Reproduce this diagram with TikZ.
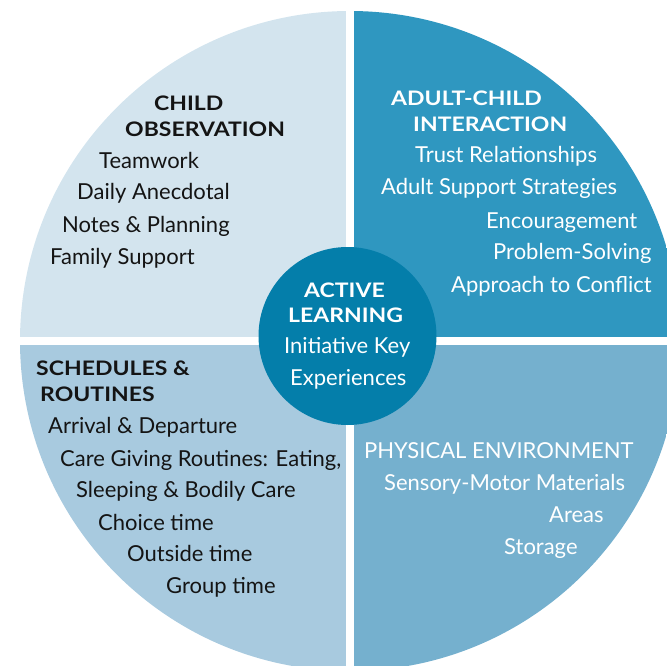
\documentclass[tikz,border=0pt]{standalone}
\usepackage{fontspec}
\setmainfont{Lato}
\newfontfamily\headfont[FakeStretch=1.15]{Lato}
\usetikzlibrary{positioning}
\definecolor{obsblue}{RGB}{211,228,238}
\definecolor{adultblue}{RGB}{47,151,192}
\definecolor{routineblue}{RGB}{168,202,223}
\definecolor{envblue}{RGB}{117,176,206}
\definecolor{hubblue}{RGB}{4,126,170}
\definecolor{inkblack}{RGB}{20,20,20}

\begin{document}
\begin{tikzpicture}[
  x=1pt, y=-1pt,
  head/.style={anchor=base west, inner sep=0pt, text=inkblack, font=\headfont\fontsize{20}{22}\selectfont\bfseries},
  item/.style={anchor=base west, inner sep=0pt, text=inkblack, font=\fontsize{22}{24}\selectfont},
  hub/.style={circle, fill=hubblue, minimum size=178pt, inner sep=0pt},
  gap/.style={white, line width=8pt}
]
\useasboundingbox (0,0) rectangle (667,666);

\begin{scope}
  \clip (350,341) circle [radius=330];
  \fill[obsblue] (0,0) rectangle (350,341);
  \fill[adultblue] (350,0) rectangle (700,341);
  \fill[routineblue] (0,341) rectangle (350,700);
  \fill[envblue] (350,341) rectangle (700,700);
\end{scope}
\draw[gap] (350,0) -- (350,666);
\draw[gap] (0,341) -- (667,341);

\node[hub] (hub) at (347.5,336) {};

\node[head] (obs_a) at (154,111) {CHILD};
\node[head] (obs_b) at (125,137) {OBSERVATION};
\node[item] (teamwork) at (99,168) {Teamwork};
\node[item] (anecdotal) at (77,200) {Daily Anecdotal};
\node[item] (notes) at (62,232) {Notes \& Planning};
\node[item] (family) at (50,264) {Family Support};

\node[head, text=white] (adult_a) at (391,106) {ADULT-CHILD};
\node[head, text=white] (adult_b) at (413,132) {INTERACTION};
\node[item, text=white] (trust) at (415,163) {Trust Relationships};
\node[item, text=white] (support) at (381,195) {Adult Support Strategies};
\node[item, text=white] (encourage) at (486,228) {Encouragement};
\node[item, text=white] (problem) at (493,259) {Problem-Solving};
\node[item, text=white] (conflict) at (451,292) {Approach to Conflict};

\node[head, text=white] (active) at (304,297) {ACTIVE};
\node[head, text=white] (learning) at (288,322) {LEARNING};
\node[item, text=white] (initiative) at (284,353) {Initiative Key};
\node[item, text=white] (experiences) at (290,385) {Experiences};

\node[head] (sched_a) at (36,375) {SCHEDULES \&};
\node[head] (sched_b) at (40,401) {ROUTINES};
\node[item] (arrival) at (48,433) {Arrival \& Departure};
\node[item] (caregiving) at (60,466) {Care Giving Routines: Eating,};
\node[item] (sleeping) at (76,497) {Sleeping \& Bodily Care};
\node[item] (choice) at (98,530) {Choice time};
\node[item] (outside) at (127,561) {Outside time};
\node[item] (group) at (166,593) {Group time};

\node[item, text=white] (physical) at (364,458) {PHYSICAL ENVIRONMENT};
\node[item, text=white] (sensory) at (384,490) {Sensory-Motor Materials};
\node[item, text=white] (areas) at (549,522) {Areas};
\node[item, text=white] (storage) at (504,554) {Storage};

\end{tikzpicture}
\end{document}
